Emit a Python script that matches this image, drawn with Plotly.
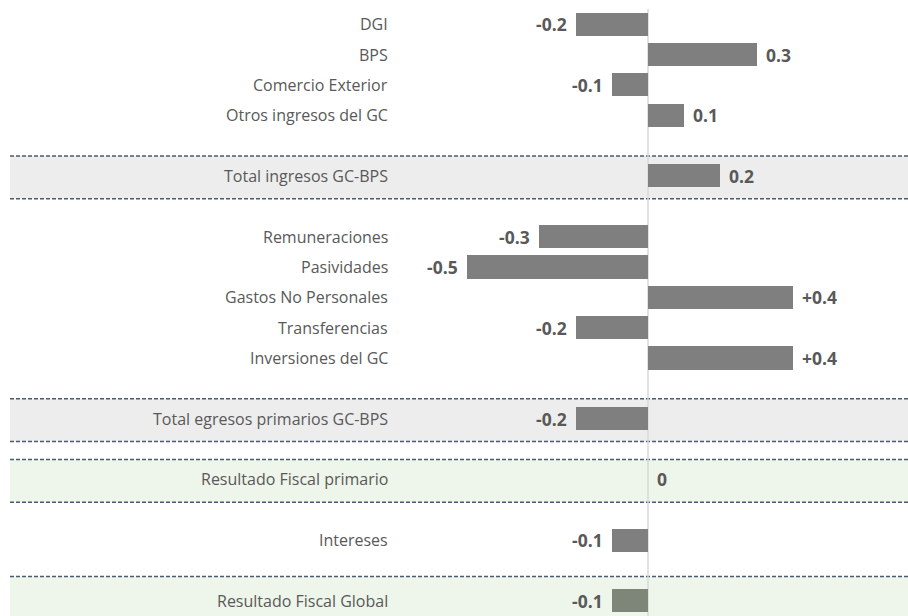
import plotly.graph_objects as go

# ---- data ----
categories = ["DGI", "BPS", "Comercio Exterior", "Otros ingresos del GC",
              "Total ingresos GC-BPS",
              "Remuneraciones", "Pasividades", "Gastos No Personales",
              "Transferencias", "Inversiones del GC",
              "Total egresos primarios GC-BPS",
              "Resultado Fiscal primario",
              "Intereses",
              "Resultado Fiscal Global"]
values = [-0.2, 0.3, -0.1, 0.1, 0.2, -0.3, -0.5, 0.4, -0.2, 0.4, -0.2, 0.0, -0.1, -0.1]
value_labels = ["-0.2", "0.3", "-0.1", "0.1", "0.2", "-0.3", "-0.5", "+0.4",
                "-0.2", "+0.4", "-0.2", "0", "-0.1", "-0.1"]

# ---- layout (row slots, with empty spacer rows) ----
rows = [0, 1, 2, 3, 5, 7, 8, 9, 10, 11, 13, 15, 17, 19]
n_rows = 20
bands = [(5, "#ededed"), (13, "#ededed"), (15, "#eef5ea"), (19, "#eef5ea")]

W, H = 908, 616
zero_px = 648
px_per_unit = 362
x_range = [-zero_px / px_per_unit, (W - zero_px) / px_per_unit]

bar_colors = ["#7f7f7f"] * (len(values) - 1) + ["#7e8679"]

fig = go.Figure()
fig.add_trace(go.Bar(
    y=rows, x=values, orientation="h", width=0.76,
    marker=dict(color=bar_colors, line=dict(width=0)),
    hoverinfo="skip", showlegend=False,
))

shapes = []
dash_col = "#4b5a70"
for r, col in bands:
    y0 = r - 0.66
    y1 = min(r + 0.75, n_rows - 0.5)
    if r == 19:
        y0 = r - 0.8
    shapes.append(dict(type="rect", xref="paper", yref="y", x0=10 / W, x1=1,
                       y0=y0, y1=y1, fillcolor=col, line=dict(width=0), layer="below"))
    shapes.append(dict(type="line", xref="paper", yref="y", x0=10 / W, x1=1,
                       y0=y0, y1=y0, line=dict(color=dash_col, width=1.5, dash="4px,2px"),
                       layer="below"))
    if y1 < n_rows - 0.5:
        shapes.append(dict(type="line", xref="paper", yref="y", x0=10 / W, x1=1,
                           y0=y1, y1=y1, line=dict(color=dash_col, width=1.5, dash="4px,2px"),
                           layer="below"))
# zero line
shapes.append(dict(type="line", xref="x", yref="paper", x0=0, x1=0, y0=0, y1=1,
                   line=dict(color="#d9d9d9", width=1.5), layer="below"))

annotations = []
label_x = (390 - zero_px) / px_per_unit
for cat, r in zip(categories, rows):
    annotations.append(dict(x=label_x, y=r, xref="x", yref="y", text=cat,
                            showarrow=False, xanchor="right", yanchor="middle",
                            font=dict(family="Open Sans", size=16, color="#595959")))
for v, lab, r in zip(values, value_labels, rows):
    if v < 0:
        annotations.append(dict(x=v, y=r, xref="x", yref="y", text="<b>%s</b>" % lab,
                                showarrow=False, xanchor="right", yanchor="middle", xshift=-7,
                                font=dict(family="Open Sans", size=17.5, color="#595959")))
    else:
        annotations.append(dict(x=v, y=r, xref="x", yref="y", text="<b>%s</b>" % lab,
                                showarrow=False, xanchor="left", yanchor="middle", xshift=7,
                                font=dict(family="Open Sans", size=17.5, color="#595959")))

fig.update_layout(
    width=W, height=H,
    margin=dict(l=0, r=0, t=9, b=0),
    paper_bgcolor="white", plot_bgcolor="white",
    xaxis=dict(range=x_range, visible=False, fixedrange=True),
    yaxis=dict(range=[n_rows - 0.5, -0.5], visible=False, fixedrange=True),
    shapes=shapes, annotations=annotations,
    bargap=0,
)

fig.write_html("out.html")
